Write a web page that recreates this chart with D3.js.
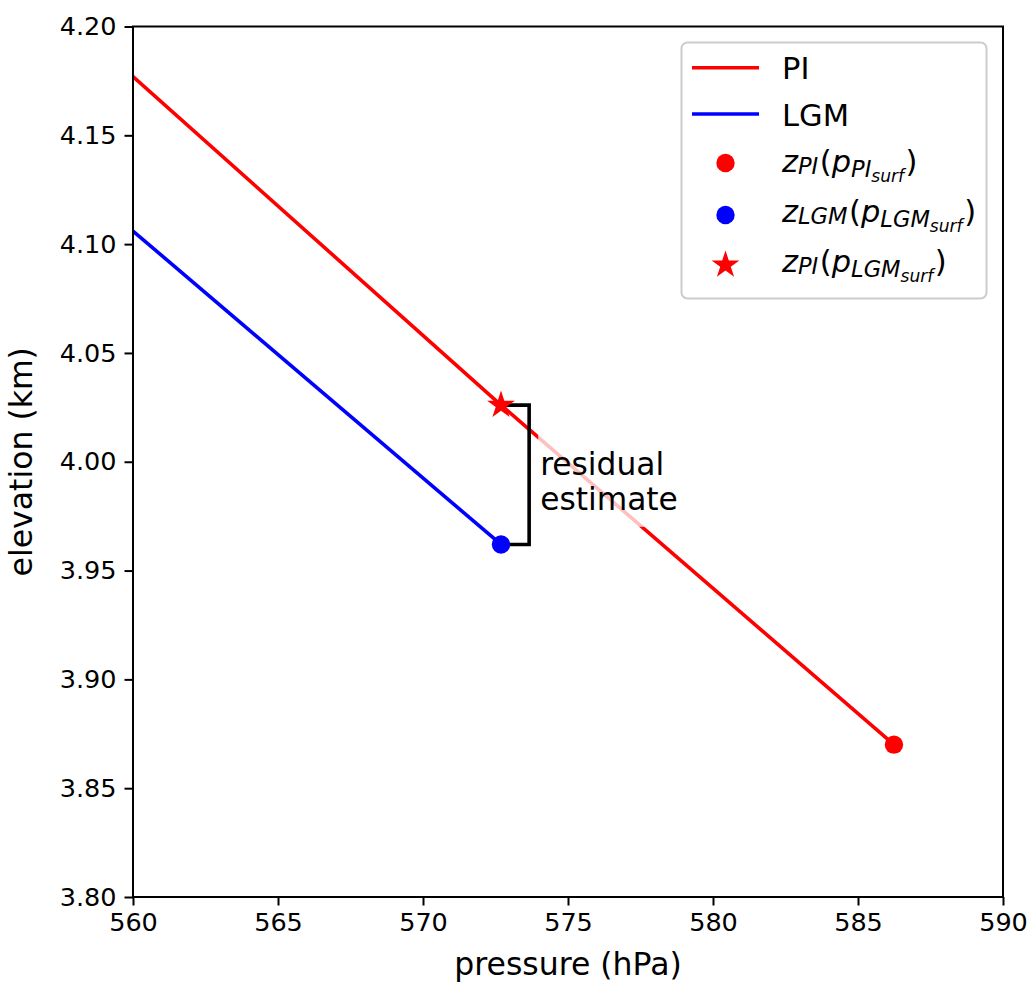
<!DOCTYPE html>
<html>
<head>
<meta charset="utf-8">
<script src="https://cdn.jsdelivr.net/npm/d3@7"></script>
<style>
  html, body { margin: 0; padding: 0; background: #fff; }
  svg { display: block; font-family: "DejaVu Sans", sans-serif; }
</style>
</head>
<body>
<svg id="chart" width="1031" height="982"></svg>
<script>
// Geopotential height against pressure for the two climate states
const piPressure   = [560, 572.69, 586.24];
const piElevation  = [4.177, 4.026, 3.870];
const lgmPressure  = [560, 572.69];
const lgmElevation = [4.106, 3.962];

// Surface points
const piSurfacePoint      = [586.24, 3.870];   // z_PI(p_PI,surf)
const lgmSurfacePoint     = [572.69, 3.962];   // z_LGM(p_LGM,surf)
const piAtLgmSurfacePoint = [572.69, 4.026];   // z_PI(p_LGM,surf)
const bracketOffset = 0.97;                    // hPa to the right of the points

const xTicks = [560, 565, 570, 575, 580, 585, 590];
const yTicks = [3.80, 3.85, 3.90, 3.95, 4.00, 4.05, 4.10, 4.15, 4.20];
const xDomain = [560, 590];
const yDomain = [3.80, 4.20];

const RED = "#ff0000", BLUE = "#0000ff";

const svg = d3.select("#chart");
const margin = { left: 133, top: 26.5, right: 1003, bottom: 897 };

const x = d3.scaleLinear().domain(xDomain).range([margin.left, margin.right]);
const y = d3.scaleLinear().domain(yDomain).range([margin.bottom, margin.top]);

svg.append("defs").append("clipPath").attr("id", "plot-clip")
  .append("rect")
  .attr("x", margin.left).attr("y", margin.top)
  .attr("width", margin.right - margin.left)
  .attr("height", margin.bottom - margin.top);

const plot = svg.append("g").attr("clip-path", "url(#plot-clip)");

const line = d3.line().x(d => x(d[0])).y(d => y(d[1]));
const piLine  = piPressure.map((p, i) => [p, piElevation[i]]);
const lgmLine = lgmPressure.map((p, i) => [p, lgmElevation[i]]);

plot.append("path").datum(piLine).attr("d", line)
  .attr("fill", "none").attr("stroke", RED).attr("stroke-width", 3.6);
plot.append("path").datum(lgmLine).attr("d", line)
  .attr("fill", "none").attr("stroke", BLUE).attr("stroke-width", 3.6);

// Bracket showing the residual between the two surface elevations
const bx = piAtLgmSurfacePoint[0] + bracketOffset;
const bracket = [
  [piAtLgmSurfacePoint[0], piAtLgmSurfacePoint[1]],
  [bx, piAtLgmSurfacePoint[1]],
  [bx, lgmSurfacePoint[1]],
  [lgmSurfacePoint[0], lgmSurfacePoint[1]]
];
plot.append("path").datum(bracket).attr("d", line)
  .attr("fill", "none").attr("stroke", "#000").attr("stroke-width", 3.6)
  .attr("stroke-linejoin", "miter");

// Markers
const dotRadius = 9.2;
plot.append("circle").attr("cx", x(piSurfacePoint[0])).attr("cy", y(piSurfacePoint[1]))
  .attr("r", dotRadius).attr("fill", RED);
plot.append("circle").attr("cx", x(lgmSurfacePoint[0])).attr("cy", y(lgmSurfacePoint[1]))
  .attr("r", dotRadius).attr("fill", BLUE);
const star = d3.symbol(d3.symbolStar, 240);
plot.append("path").attr("d", star())
  .attr("transform", `translate(${x(piAtLgmSurfacePoint[0])},${y(piAtLgmSurfacePoint[1])})`)
  .attr("fill", RED);

// Annotation with a translucent white backing
const annX = x(bx) + 11;
const annY = (y(piAtLgmSurfacePoint[1]) + y(lgmSurfacePoint[1])) / 2;
svg.append("rect")
  .attr("x", annX - 2).attr("y", annY - 40)
  .attr("width", 145).attr("height", 92)
  .attr("fill", "#fff").attr("fill-opacity", 0.75);
const ann = svg.append("text").attr("font-size", 31.3).attr("fill", "#000");
ann.append("tspan").attr("x", annX).attr("y", annY + 0).text("residual");
ann.append("tspan").attr("x", annX).attr("y", annY + 35.5).text("estimate");

// Axes
const xAxis = d3.axisBottom(x).tickValues(xTicks).tickFormat(d3.format("d"))
  .tickSize(8.5).tickPadding(7);
const yAxis = d3.axisLeft(y).tickValues(yTicks).tickFormat(d3.format(".2f"))
  .tickSize(8.5).tickPadding(8);

const gx = svg.append("g").attr("transform", `translate(0,${margin.bottom})`).call(xAxis);
const gy = svg.append("g").attr("transform", `translate(${margin.left},0)`).call(yAxis);
[gx, gy].forEach(g => {
  g.select(".domain").remove();
  g.selectAll(".tick line").attr("stroke", "#000").attr("stroke-width", 2);
  g.selectAll(".tick text").attr("font-size", 25.5).attr("fill", "#000")
    .attr("font-family", "DejaVu Sans");
});

// Frame
svg.append("rect")
  .attr("x", margin.left).attr("y", margin.top)
  .attr("width", margin.right - margin.left)
  .attr("height", margin.bottom - margin.top)
  .attr("fill", "none").attr("stroke", "#000").attr("stroke-width", 2);

// Axis titles
svg.append("text").attr("x", (margin.left + margin.right) / 2).attr("y", 975)
  .attr("text-anchor", "middle").attr("font-size", 31.5).text("pressure (hPa)");
svg.append("text")
  .attr("transform", `translate(32,${(margin.top + margin.bottom) / 2}) rotate(-90)`)
  .attr("text-anchor", "middle").attr("font-size", 31.5).text("elevation (km)");

// Legend
const legend = svg.append("g");
legend.append("rect")
  .attr("x", 681.5).attr("y", 42.5).attr("width", 305).attr("height", 256)
  .attr("rx", 6).attr("ry", 6)
  .attr("fill", "#fff").attr("fill-opacity", 0.8)
  .attr("stroke", "#cccccc").attr("stroke-width", 2);

const keyX0 = 692, keyX1 = 759, keyMid = 725.5, labelX = 782;
const fs = 30.5, sub = fs * 0.74, subsub = fs * 0.56;

// Each label is a list of runs: [text, italic, size, baseline offset, gap before]
const legendItems = [
  { kind: "line", color: RED, cy: 67.7, base: 79,
    runs: [["PI", false, fs, 0, 0]] },
  { kind: "line", color: BLUE, cy: 114, base: 126,
    runs: [["LGM", false, fs, 0, 0]] },
  { kind: "dot", color: RED, cy: 163, base: 172,
    runs: [["z", true, fs, 0, 0], ["PI", true, sub, 2, 0], ["(", false, fs, 0, 1.5],
           ["p", true, fs, 0, 0], ["PI", true, sub, 5, 0], ["surf", true, subsub, 10, 0],
           [")", false, fs, 0, 1.5]] },
  { kind: "dot", color: BLUE, cy: 215, base: 222,
    runs: [["z", true, fs, 0, 0], ["LGM", true, sub, 2, 0], ["(", false, fs, 0, 1.5],
           ["p", true, fs, 0, 0], ["LGM", true, sub, 5, 0], ["surf", true, subsub, 10, 0],
           [")", false, fs, 0, 1.5]] },
  { kind: "star", color: RED, cy: 265, base: 272,
    runs: [["z", true, fs, 0, 0], ["PI", true, sub, 2, 0], ["(", false, fs, 0, 1.5],
           ["p", true, fs, 0, 0], ["LGM", true, sub, 5, 0], ["surf", true, subsub, 10, 0],
           [")", false, fs, 0, 1.5]] }
];

legendItems.forEach(item => {
  if (item.kind === "line") {
    legend.append("line").attr("x1", keyX0).attr("x2", keyX1)
      .attr("y1", item.cy).attr("y2", item.cy)
      .attr("stroke", item.color).attr("stroke-width", 3.6);
  } else if (item.kind === "dot") {
    legend.append("circle").attr("cx", keyMid).attr("cy", item.cy)
      .attr("r", dotRadius).attr("fill", item.color);
  } else {
    legend.append("path").attr("d", star())
      .attr("transform", `translate(${keyMid},${item.cy})`).attr("fill", item.color);
  }
  const t = legend.append("text").attr("x", labelX).attr("y", item.base);
  let prev = 0;
  item.runs.forEach(([txt, italic, size, off, gap]) => {
    t.append("tspan")
      .attr("dx", gap)
      .attr("dy", off - prev)
      .attr("font-size", size)
      .attr("font-style", italic ? "italic" : "normal")
      .text(txt);
    prev = off;
  });
});
</script>
</body>
</html>
